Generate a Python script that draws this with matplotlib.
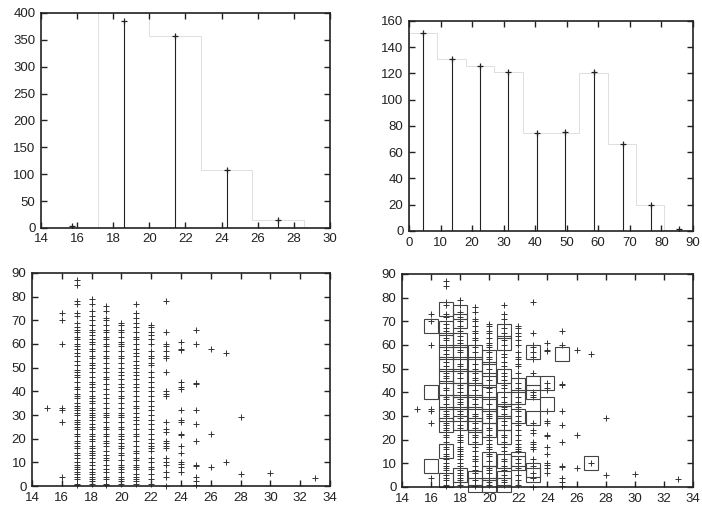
import numpy as np
import matplotlib
matplotlib.use("Agg")
import matplotlib.pyplot as plt

plt.rcParams['font.family'] = ['Liberation Sans', 'DejaVu Sans']
plt.rcParams['font.size'] = 9.5

# top left: impulses + step outline
tl_x = [15.72, 18.57, 21.43, 24.28, 27.13]
tl_y = [4, 386, 357, 108, 15]
tl_edges = [17.15, 20.0, 22.85, 25.7, 28.55]
tl_steps = [400, 357, 108, 15]

# top right
tr_x = [4.6, 13.6, 22.5, 31.5, 40.6, 49.6, 58.7, 67.7, 76.6, 85.7]
tr_y = [151, 131, 126, 121, 75, 75.5, 121, 66.5, 20, 1.5]
tr_edges = [0, 9, 18, 27, 36, 45, 54, 63, 72, 81, 90]
tr_steps = [151, 131, 126, 121, 75, 75, 120, 66, 20, 1]

# scatter columns (x value -> y values)
col15 = [33]
col16 = [73, 70, 60, 33, 32, 27, 4]
col17 = [87, 85, 78, 77, 73, 72, 69, 67, 66, 65, 63, 62, 60, 59, 58, 56, 55, 53, 51,
         49, 48, 47, 46, 44, 42, 41, 39, 38, 37, 35, 34, 33, 32, 31, 30, 28, 27, 26,
         25, 24, 22, 21, 19, 18, 17, 16, 14, 13, 12, 10, 9, 8, 7, 6, 5, 4, 3, 1, 0.5]
col18 = [79, 77, 74, 72, 70, 68, 66, 65, 64, 62, 61, 60, 58, 57, 55, 54, 52, 51, 50,
         48, 46, 44, 43, 42, 40, 38, 37, 36, 35, 33, 32, 31, 30, 29, 28, 26, 25, 24,
         22, 21, 20, 19, 17, 16, 15, 14, 13, 12, 10, 9, 7, 6, 5, 4, 3, 2, 1]
col19 = [76, 74, 71, 70, 68, 66, 65, 63, 62, 60, 59, 57, 55, 54, 52, 50, 48, 46, 45,
         43, 41, 39, 37, 35, 33, 31, 30, 29, 27, 25, 24, 22, 21, 19, 18, 17, 15, 13,
         12, 11, 9, 7, 6, 4, 3, 1, 0.5]
col20 = [69, 68, 66, 65, 63, 61, 60, 59, 57, 55, 54, 52, 50, 48, 47, 45, 43, 42, 40,
         38, 37, 35, 33, 31, 30, 29, 27, 25, 24, 22, 21, 20, 18, 17, 16, 14, 13, 11,
         9, 8, 7, 6, 4, 3, 2, 1]
col21 = [77, 73, 71, 69, 67, 65, 63, 62, 60, 58, 56, 55, 53, 51, 50, 48, 47, 45, 43,
         42, 40, 38, 36, 34, 33, 31, 29, 28, 26, 24, 22, 21, 19, 17, 15, 14, 12, 11,
         9, 8, 7, 5, 4, 3, 2, 1]
col22 = [68, 67, 65, 64, 62, 60, 57, 55, 54, 52, 51, 48, 46, 44, 42, 40, 38, 36, 34,
         32, 30, 28, 26, 24, 22, 20, 18, 17, 16, 15, 12, 10, 8, 7, 5, 3, 1]
col23 = [78, 65, 60, 59, 57, 55, 54, 48, 40, 39, 38, 27, 24, 23, 19, 18, 17, 16, 12,
         10, 9, 6, 4, 0]
col24 = [61, 58, 57.5, 44, 42, 41, 32, 28, 27, 22, 21.5, 17, 14, 10, 9.5, 8, 6]
col25 = [66, 60, 43.5, 43, 32, 26, 19, 9, 8.5, 4, 2, 0.5]
col26 = [58, 22, 8]
col27 = [56, 10]
col28 = [29, 5]
col30 = [5.5]
col33 = [3.5]

# squares in bottom right
sq16 = [68, 40, 9]
sq17 = [75, 67, 62, 57, 52, 47, 42, 36, 31, 26, 15, 3]
sq18 = [74, 70, 62, 57, 52, 47, 41, 36, 31, 27, 5]
sq19 = [57, 52, 46, 41, 36, 31, 26, 21, 4, 1]
sq20 = [55, 50, 45, 40, 35, 30, 24, 12, 6, 1]
sq21 = [66, 61, 47, 37, 32, 27, 21, 11, 4, 1]
sq22 = [43, 38, 30, 12, 10]
sq23 = [57, 44, 40, 29, 7, 5]
sq24 = [44, 35]
sq25 = [56]
sq27 = [10]

cols = {15: col15, 16: col16, 17: col17, 18: col18, 19: col19, 20: col20, 21: col21,
        22: col22, 23: col23, 24: col24, 25: col25, 26: col26, 27: col27, 28: col28,
        30: col30, 33: col33}
sqs = {16: sq16, 17: sq17, 18: sq18, 19: sq19, 20: sq20, 21: sq21, 22: sq22,
       23: sq23, 24: sq24, 25: sq25, 27: sq27}

sc_x = np.concatenate([[k] * len(v) for k, v in cols.items()])
sc_y = np.concatenate([v for v in cols.values()])
sq_x = np.concatenate([[k] * len(v) for k, v in sqs.items()])
sq_y = np.concatenate([v for v in sqs.values()])

fig = plt.figure(figsize=(7.02, 5.11), dpi=100)
ax1 = fig.add_axes([0.0584, 0.554, 0.4116, 0.4206])
ax2 = fig.add_axes([0.5826, 0.548, 0.4044, 0.411])
ax3 = fig.add_axes([0.0456, 0.0489, 0.4244, 0.4169])
ax4 = fig.add_axes([0.5726, 0.047, 0.4144, 0.4168])


def style(ax, xt, yt):
    ax.set_xlim(xt[0], xt[-1])
    ax.set_ylim(yt[0], yt[-1])
    ax.set_xticks(xt)
    ax.set_yticks(yt)
    ax.tick_params(direction='in', top=True, right=True, length=4, width=1.0,
                   colors='#222222', labelsize=9.5, pad=4)
    for s in ax.spines.values():
        s.set_linewidth(1.2)
        s.set_color('#222222')


ax1.stairs(tl_steps, tl_edges, baseline=0, color='0.85', lw=0.6)
ax1.vlines(tl_x, 0, tl_y, color='#222222', lw=0.8)
ax1.plot(tl_x, tl_y, '+', color='#222222', ms=5, mew=0.9)
style(ax1, list(range(14, 31, 2)), list(range(0, 401, 50)))

ax2.stairs(tr_steps, tr_edges, baseline=0, color='0.85', lw=0.6)
ax2.vlines(tr_x, 0, tr_y, color='#222222', lw=0.8)
ax2.plot(tr_x, tr_y, '+', color='#222222', ms=5, mew=0.9)
style(ax2, list(range(0, 91, 10)), list(range(0, 161, 20)))

ax3.plot(sc_x, sc_y, '+', color='#333333', ms=4.5, mew=0.7, clip_on=False)
style(ax3, list(range(14, 35, 2)), list(range(0, 91, 10)))

ax4.plot(sc_x, sc_y, '+', color='#333333', ms=4.5, mew=0.7, clip_on=False)
ax4.plot(sq_x, sq_y, 's', mfc='none', mec='#444444', ms=9.5, mew=0.8, clip_on=False)
style(ax4, list(range(14, 35, 2)), list(range(0, 91, 10)))

fig.savefig('out.png', dpi=100)
